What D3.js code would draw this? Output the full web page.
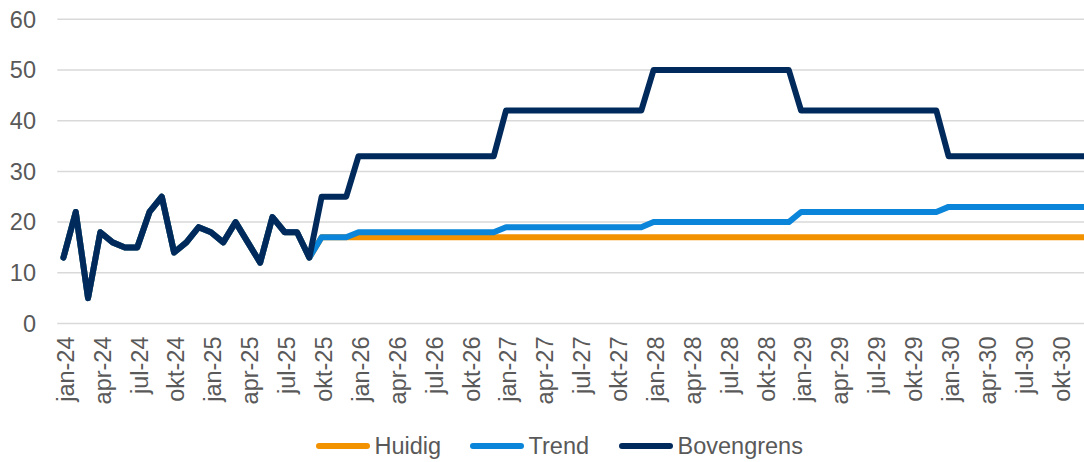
<!DOCTYPE html>
<html>
<head>
<meta charset="utf-8">
<script src="https://cdn.jsdelivr.net/npm/d3@7"></script>
<style>
  body { margin: 0; background: #fff; }
  svg { display: block; font-family: "Liberation Sans", Arial, sans-serif; }
</style>
</head>
<body>
<script>
// categories
var monthNames = ["jan","feb","mrt","apr","mei","jun","jul","aug","sep","okt","nov","dec"];
var years = ["24","25","26","27","28","29","30"];

// realised values jan-24 .. sep-25 (shared by all series)
var realised = [13,22,5,18,16,15,15,22,25,14,16,19,18,16,20,16,12,21,18,18,13];

// forecast okt-25 .. dec-30
var huidig = [17,17,17,
  17,17,17,17,17,17,17,17,17,17,17,17,
  17,17,17,17,17,17,17,17,17,17,17,17,
  17,17,17,17,17,17,17,17,17,17,17,17,
  17,17,17,17,17,17,17,17,17,17,17,17,
  17,17,17,17,17,17,17,17,17,17,17,17];
var trend = [17,17,17,
  18,18,18,18,18,18,18,18,18,18,18,18,
  19,19,19,19,19,19,19,19,19,19,19,19,
  20,20,20,20,20,20,20,20,20,20,20,20,
  22,22,22,22,22,22,22,22,22,22,22,22,
  23,23,23,23,23,23,23,23,23,23,23,23];
var bovengrens = [25,25,25,
  33,33,33,33,33,33,33,33,33,33,33,33,
  42,42,42,42,42,42,42,42,42,42,42,42,
  50,50,50,50,50,50,50,50,50,50,50,50,
  42,42,42,42,42,42,42,42,42,42,42,42,
  33,33,33,33,33,33,33,33,33,33,33,33];

var yTicks = [0,10,20,30,40,50,60];

var categories = [];
years.forEach(function(y) {
  monthNames.forEach(function(m) { categories.push(m + "-" + y); });
});

var series = [
  { name: "Huidig", color: "#F39200", values: realised.concat(huidig) },
  { name: "Trend", color: "#0A85D9", values: realised.concat(trend) },
  { name: "Bovengrens", color: "#002A5C", values: realised.concat(bovengrens) }
];

// layout
var width = 1084, height = 462;
var plotLeft = 57.3, plotRight = 1090, plotTop = 19.3, plotBottom = 323.5;
var fontSize = "23.5px";

var svg = d3.select("body").append("svg")
  .attr("width", width)
  .attr("height", height);

var x = d3.scalePoint()
  .domain(categories)
  .range([plotLeft, plotRight])
  .padding(0.5);

var y = d3.scaleLinear()
  .domain([0, 60])
  .range([plotBottom, plotTop]);

// gridlines
svg.append("g")
  .selectAll("line")
  .data(yTicks)
  .enter()
  .append("line")
    .attr("x1", plotLeft)
    .attr("x2", width)
    .attr("y1", function(d) { return y(d); })
    .attr("y2", function(d) { return y(d); })
    .attr("stroke", "#D9D9D9")
    .attr("stroke-width", 1.5);

// y labels
svg.append("g")
  .selectAll("text")
  .data(yTicks)
  .enter()
  .append("text")
    .attr("x", 36)
    .attr("y", function(d) { return y(d); })
    .attr("dy", "0.35em")
    .attr("text-anchor", "end")
    .style("font-size", fontSize)
    .style("fill", "#595959")
    .text(function(d) { return d; });

// x axis
var xAxis = d3.axisBottom(x)
  .tickValues(categories.filter(function(d, i) { return i % 3 === 0; }))
  .tickSize(0);

var gx = svg.append("g")
  .attr("transform", "translate(0," + plotBottom + ")")
  .call(xAxis);
gx.select(".domain").remove();
gx.selectAll("text")
  .attr("transform", "rotate(-90)")
  .attr("x", -13)
  .attr("y", 0)
  .attr("dy", "0.42em")
  .attr("text-anchor", "end")
  .style("font-family", "'Liberation Sans', Arial, sans-serif")
  .style("font-size", fontSize)
  .style("fill", "#595959");

// lines
var line = d3.line()
  .x(function(d, i) { return x(categories[i]); })
  .y(function(d) { return y(d); });

svg.append("g")
  .selectAll("path")
  .data(series)
  .enter()
  .append("path")
    .attr("d", function(d) { return line(d.values); })
    .attr("fill", "none")
    .attr("stroke", function(d) { return d.color; })
    .attr("stroke-width", 6)
    .attr("stroke-linejoin", "round")
    .attr("stroke-linecap", "round");

// legend
var legendX = [316, 470, 619];
var legendY = 446;
var legend = svg.append("g")
  .selectAll("g")
  .data(series)
  .enter()
  .append("g")
    .attr("transform", function(d, i) { return "translate(" + legendX[i] + "," + legendY + ")"; });

legend.append("line")
  .attr("x1", 3)
  .attr("x2", 51)
  .attr("stroke", function(d) { return d.color; })
  .attr("stroke-width", 6)
  .attr("stroke-linecap", "round");

legend.append("text")
  .attr("x", 58.5)
  .attr("dy", "0.35em")
  .style("font-size", fontSize)
  .style("fill", "#595959")
  .text(function(d) { return d.name; });
</script>
</body>
</html>
